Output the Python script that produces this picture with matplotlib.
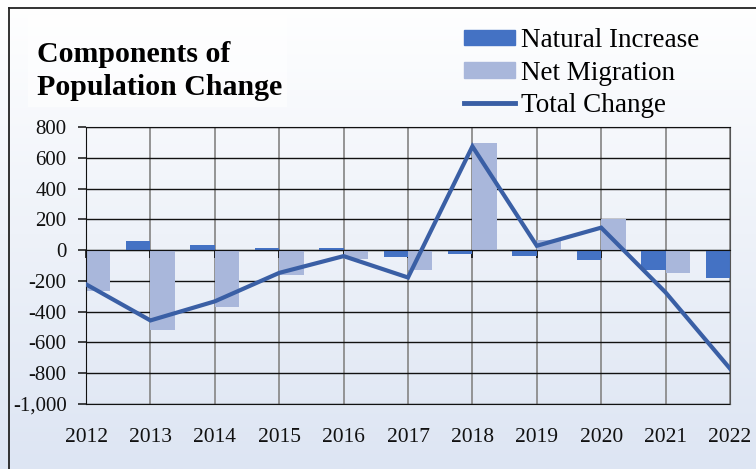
import numpy as np
import matplotlib
matplotlib.use('Agg')
import matplotlib.pyplot as plt
from matplotlib.colors import LinearSegmentedColormap
from matplotlib.patches import Rectangle
from matplotlib.lines import Line2D

plt.rcParams['font.family'] = ['Liberation Serif', 'DejaVu Serif']

years = [2012, 2013, 2014, 2015, 2016, 2017, 2018, 2019, 2020, 2021, 2022]
natural = [43, 59, 35, 13, 13, -48, -28, -39, -65, -130, -183]
migration = [-265, -517, -370, -163, -55, -130, 696, 65, 205, -148, -587]
total = [-222, -457, -333, -148, -39, -178, 674, 28, 146, -275, -770]

c_nat = '#4472c4'
c_mig = '#a9b7db'
c_tot = '#3a5fa5'

W, H = 756, 469
fig = plt.figure(figsize=(7.56, 4.69), dpi=100)

# gradient background (white at top, pale blue at bottom)
bg = fig.add_axes([0, 0, 1, 1])
bg.set_zorder(-1)
cmap = LinearSegmentedColormap.from_list('bg', ['#dde5f3', '#ffffff'])
bg.imshow(np.linspace(0, 1, 256).reshape(-1, 1), aspect='auto', cmap=cmap,
          extent=[0, 1, 0, 1], origin='lower')
bg.set_xlim(0, 1)
bg.set_ylim(0, 1)
bg.axis('off')
# frame lines (left and top)
bg.plot([9 / W, 9 / W], [0, 1 - 8 / H], color='#222222', lw=1.3)
bg.plot([9 / W, 1.0], [1 - 8 / H, 1 - 8 / H], color='#222222', lw=1.3)
bg.add_patch(Rectangle((28 / W, 1 - 107 / H), 259 / W, 92 / H,
                       color='#ffffff', alpha=0.6, lw=0))

ax = fig.add_axes([86 / W, 65 / H, 644 / W, 277 / H])
ax.set_facecolor('none')

w = 0.38
ax.bar(years, natural, width=-w, align='edge', color=c_nat, zorder=2)
ax.bar(years, migration, width=w, align='edge', color=c_mig, zorder=2)
ax.plot(years, total, color=c_tot, lw=3, zorder=4, solid_joinstyle='miter')

ax.set_xlim(2012, 2022)
ax.set_ylim(-1000, 800)
ax.set_yticks(range(-1000, 801, 200))
ax.set_yticklabels([f'{v:,}' for v in range(-1000, 801, 200)])
ax.set_xticks(years)

ax.grid(axis='y', color='#111111', lw=1.0, zorder=0)
ax.grid(axis='x', color='#8c8c8c', lw=1.3, zorder=0)
ax.set_axisbelow(True)

ax.spines['bottom'].set_position(('data', 0))
ax.spines['bottom'].set_color('#111111')
ax.spines['bottom'].set_zorder(3)
ax.spines['left'].set_color('#111111')
ax.spines['top'].set_color('#111111')
ax.spines['right'].set_color('#555555')
ax.tick_params(axis='x', direction='out', length=6, width=1.1, labelbottom=False)
ax.tick_params(axis='y', direction='out', length=6, width=1.1, pad=8,
               labelsize=15, colors='#111111')

sec = ax.secondary_xaxis('bottom')
sec.set_xticks(years)
sec.set_xticklabels([str(y) for y in years])
sec.tick_params(length=0, pad=17, labelsize=15.5, colors='#111111')
sec.spines['bottom'].set_color('#111111')

fig.text(37 / W, 1 - 41 / H, 'Components of\nPopulation Change',
         fontsize=21.5, fontweight='bold', va='top', ha='left', linespacing=1.3)

handles = [Rectangle((0, 0), 1, 1, color=c_nat),
           Rectangle((0, 0), 1, 1, color=c_mig),
           Line2D([0], [0], color=c_tot, lw=3.5)]
fig.legend(handles, ['Natural Increase', 'Net Migration', 'Total Change'],
           loc='upper left', bbox_to_anchor=(464 / W, 1 - 28 / H),
           frameon=False, fontsize=19.5, handlelength=1.9, handleheight=0.5,
           handletextpad=0.2, labelspacing=0.28, borderpad=0, borderaxespad=0)

fig.savefig('out.png', dpi=100)
